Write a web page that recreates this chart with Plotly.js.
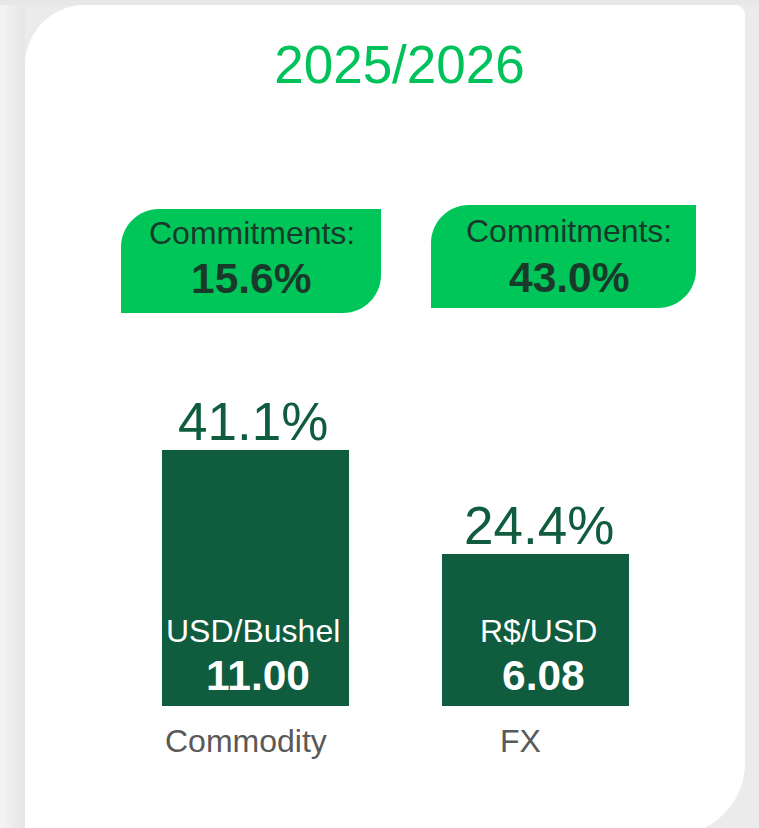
<!DOCTYPE html>
<html>
<head>
<meta charset="utf-8">
<script src="https://cdn.plot.ly/plotly-3.0.1.min.js"></script>
<style>
  html, body { margin: 0; padding: 0; background: #ebebeb; overflow: hidden; }
  #chart { width: 759px; height: 828px; }
</style>
</head>
<body>
<div id="chart"></div>
<script>
// ---- data ----
const titleText = '2025/2026';
const categories = ['Commodity', 'FX'];
const sharePct = [41.1, 24.4];
const units = ['USD/Bushel', 'R$/USD'];
const prices = [11.00, 6.08];
const commitmentLabel = 'Commitments:';
const commitments = [15.6, 43.0];

// ---- styling helpers ----
const W = 759, H = 828;
const FONT = 'Liberation Sans, Arial, sans-serif';
const BAR = '#0f5c3e';
const GREEN = '#00c65a';
const DARK = '#183a2a';
const GREY = '#595959';

function px(x) { return x / W; }
function py(y) { return 1 - y / H; }
function rounded(x0, y0, x1, y1, rtl, rtr, rbr, rbl) {
  const k = 0.5523;
  const P = (x, y) => px(x).toFixed(5) + ',' + py(y).toFixed(5);
  let d = 'M' + P(x0, y0 + rtl);
  d += ' C' + P(x0, y0 + rtl - k * rtl) + ' ' + P(x0 + rtl - k * rtl, y0) + ' ' + P(x0 + rtl, y0);
  d += ' L' + P(x1 - rtr, y0);
  d += ' C' + P(x1 - rtr + k * rtr, y0) + ' ' + P(x1, y0 + rtr - k * rtr) + ' ' + P(x1, y0 + rtr);
  d += ' L' + P(x1, y1 - rbr);
  d += ' C' + P(x1, y1 - rbr + k * rbr) + ' ' + P(x1 - rbr + k * rbr, y1) + ' ' + P(x1 - rbr, y1);
  d += ' L' + P(x0 + rbl, y1);
  d += ' C' + P(x0 + rbl - k * rbl, y1) + ' ' + P(x0, y1 - rbl + k * rbl) + ' ' + P(x0, y1 - rbl);
  d += ' Z';
  return d;
}
function pathShape(d, fill) {
  return { type: 'path', xref: 'paper', yref: 'paper', path: d, fillcolor: fill, line: { width: 0 }, layer: 'below' };
}
function rect(x0, x1, y0, y1, fill) {
  return { type: 'rect', xref: 'paper', yref: 'paper', x0: px(x0), x1: px(x1), y0: py(y1), y1: py(y0),
           fillcolor: fill, line: { width: 0 }, layer: 'below' };
}

// badge boxes (pixels) and text centres
const badgeBoxes = [[121, 209, 381, 313], [431, 205, 696, 308]];
const badgeTextX = [251.5, 569];
const badgeLabelY = [233, 231];
const badgeValueY = [278.5, 278];

// per-bar label offsets (px)
const pctShiftX = [-3, 3];
const unitShiftX = [-3, 3];
const priceShiftX = [2.5, 8];
const catShiftX = [-9.5, -15.5];

const shapes = [];
const shadeCols = ['#f3f3f3', '#f0f0f0', '#ededed', '#eaeaea', '#e7e7e7'];
shadeCols.forEach((c, i) => shapes.push(rect(i * 5, i * 5 + 5, 0, 828, c)));
shapes.push(rect(0, 759, 0, 5, '#e7e7e7'));
shapes.push(pathShape(rounded(25, 5, 745, 835, 60, 10, 72, 8), '#ffffff'));
badgeBoxes.forEach(b => shapes.push(pathShape(rounded(b[0], b[1], b[2], b[3], 38, 0, 38, 0), GREEN)));

const annotations = [];
categories.forEach((c, i) => {
  annotations.push({
    x: c, y: sharePct[i], xref: 'x', yref: 'y', text: sharePct[i].toFixed(1) + '%',
    showarrow: false, yanchor: 'middle', xanchor: 'center', yshift: 28.5, xshift: pctShiftX[i],
    font: { family: FONT, size: 53, color: BAR }
  });
  annotations.push({
    x: c, y: 0, xref: 'x', yref: 'y', text: units[i],
    showarrow: false, yanchor: 'middle', xanchor: 'center', yshift: 75, xshift: unitShiftX[i],
    font: { family: FONT, size: 32, color: '#ffffff' }
  });
  annotations.push({
    x: c, y: 0, xref: 'x', yref: 'y', text: '<b>' + prices[i].toFixed(2) + '</b>',
    showarrow: false, yanchor: 'middle', xanchor: 'center', yshift: 31, xshift: priceShiftX[i],
    font: { family: FONT, size: 42.5, color: '#ffffff' }
  });
  annotations.push({
    x: c, y: 0, xref: 'x', yref: 'y', text: c,
    showarrow: false, yanchor: 'middle', xanchor: 'center', yshift: -34.5, xshift: catShiftX[i],
    font: { family: FONT, size: 32, color: GREY }
  });
  annotations.push({
    x: px(badgeTextX[i]), y: py(badgeLabelY[i]), xref: 'paper', yref: 'paper', text: commitmentLabel,
    showarrow: false, yanchor: 'middle', xanchor: 'center',
    font: { family: FONT, size: 32, color: DARK }
  });
  annotations.push({
    x: px(badgeTextX[i]), y: py(badgeValueY[i]), xref: 'paper', yref: 'paper',
    text: '<b>' + commitments[i].toFixed(1) + '%</b>',
    showarrow: false, yanchor: 'middle', xanchor: 'center',
    font: { family: FONT, size: 42.5, color: DARK }
  });
});

const trace = {
  type: 'bar', x: categories, y: sharePct,
  marker: { color: BAR, line: { width: 0 } },
  width: 0.668, hoverinfo: 'skip', cliponaxis: false
};

const layout = {
  width: W, height: H,
  margin: { l: 0, r: 0, t: 0, b: 0, pad: 0 },
  paper_bgcolor: '#ebebeb', plot_bgcolor: 'rgba(0,0,0,0)',
  showlegend: false,
  title: {
    text: titleText, x: px(399.5), xanchor: 'center', xref: 'paper',
    y: py(64), yanchor: 'middle', yref: 'paper',
    font: { family: FONT, size: 53, color: '#00c25a' }
  },
  xaxis: {
    domain: [px(115.5), px(675.5)], range: [-0.5, 1.5], type: 'category',
    showgrid: false, zeroline: false, showticklabels: false, showline: false, ticks: '', fixedrange: true
  },
  yaxis: {
    domain: [py(706), py(394.5)], range: [0, 50],
    showgrid: false, zeroline: false, showticklabels: false, showline: false, ticks: '', fixedrange: true
  },
  shapes: shapes,
  annotations: annotations
};

Plotly.newPlot('chart', [trace], layout, { displayModeBar: false, staticPlot: true });
</script>
</body>
</html>
